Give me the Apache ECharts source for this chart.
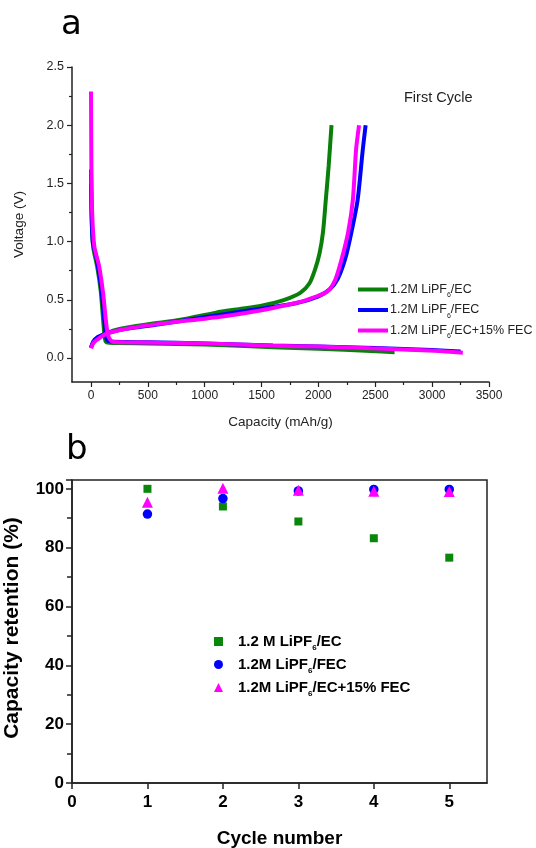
<!DOCTYPE html>
<html>
<head>
<meta charset="utf-8">
<script src="https://cdn.jsdelivr.net/npm/echarts@6/dist/echarts.min.js"></script>
<style>
    html, body { margin: 0; padding: 0; background: #fff; }
    #main { width: 536px; height: 848px; }
</style>
</head>
<body>
<div id="main"></div>
<script>
// legend labels ({s|6} = subscript)
var curveLabels = ['1.2M LiPF{s|6}/EC', '1.2M LiPF{s|6}/FEC', '1.2M LiPF{s|6}/EC+15% FEC'];
var retentionLabels = ['1.2 M LiPF{s|6}/EC', '1.2M LiPF{s|6}/FEC', '1.2M LiPF{s|6}/EC+15% FEC'];
var colors = ['#0a7f0a', '#0000ff', '#ff00ff'];

// panel a: first cycle, [capacity mAh/g, voltage V]
var ecDischarge = [[0, 1.50], [5, 1.2], [20, 0.95], [55, 0.78], [85, 0.58], [105, 0.35], [118, 0.2], [130, 0.14],
    [160, 0.13], [500, 0.125], [1000, 0.115], [1600, 0.093], [2000, 0.08], [2460, 0.06], [2670, 0.05]];
var ecCharge = [[0, 0.09], [20, 0.13], [60, 0.17], [130, 0.21], [250, 0.25], [500, 0.29], [800, 0.33], [1100, 0.39],
    [1300, 0.42], [1500, 0.45], [1700, 0.50], [1840, 0.56], [1920, 0.64], [1970, 0.76], [2010, 0.9], [2040, 1.08],
    [2065, 1.36], [2090, 1.65], [2115, 2.0]];
var fecDischarge = [[0, 1.62], [5, 1.3], [15, 1.0], [50, 0.85], [90, 0.6], [115, 0.35], [130, 0.2], [145, 0.15],
    [200, 0.14], [500, 0.135], [1000, 0.125], [1600, 0.108], [2000, 0.098], [2500, 0.085], [3000, 0.068], [3250, 0.055]];
var fecCharge = [[0, 0.09], [20, 0.14], [60, 0.18], [130, 0.21], [300, 0.25], [600, 0.29], [1000, 0.35], [1400, 0.41],
    [1800, 0.47], [2000, 0.53], [2100, 0.59], [2170, 0.68], [2235, 0.85], [2290, 1.08], [2345, 1.36], [2390, 1.79], [2415, 2.0]];
var mixDischarge = [[0, 2.29], [3, 1.7], [9, 1.28], [29, 0.96], [71, 0.79], [106, 0.56], [129, 0.34], [151, 0.19],
    [190, 0.14], [300, 0.135], [600, 0.13], [1000, 0.125], [1600, 0.106], [2000, 0.098], [2460, 0.083], [3030, 0.063], [3270, 0.046]];
var mixCharge = [[0, 0.083], [15, 0.12], [43, 0.15], [129, 0.206], [300, 0.249], [586, 0.291], [1157, 0.357], [1500, 0.41],
    [1790, 0.47], [1900, 0.50], [2076, 0.57], [2147, 0.67], [2204, 0.85], [2261, 1.08], [2303, 1.36], [2331, 1.79], [2357, 2.0]];

// panel b: capacity retention (%) per cycle
var cycles = [1, 2, 3, 4, 5];
var ecRetention = [100, 94, 88.9, 83.2, 76.6];
var fecRetention = [91.4, 96.7, 99.3, 99.8, 99.8];
var mixRetention = [95.4, 100.2, 99.5, 99.2, 99.1];

var chart = echarts.init(document.getElementById('main'));

var font = 'Liberation Sans, Arial, sans-serif';
var ink = '#222';

function pairs(ys) {
    var out = [];
    for (var i = 0; i < cycles.length; i++) {
        out.push([cycles[i], ys[i]]);
    }
    return out;
}

function curve(name, color, data) {
    return {
        name: name,
        type: 'line',
        xAxisIndex: 1,
        yAxisIndex: 1,
        data: data,
        smooth: 0.25,
        showSymbol: false,
        symbol: 'none',
        clip: false,
        lineStyle: {color: color, width: 4},
        itemStyle: {color: color}
    };
}

function dots(name, color, symbol, size, ys) {
    return {
        name: name,
        type: 'scatter',
        xAxisIndex: 2,
        yAxisIndex: 2,
        data: pairs(ys),
        symbol: symbol,
        symbolSize: size,
        itemStyle: {color: color, opacity: 1}
    };
}

var labelMap = {
    a0: curveLabels[0], a1: curveLabels[1], a2: curveLabels[2],
    b0: retentionLabels[0], b1: retentionLabels[1], b2: retentionLabels[2]
};

var option = {
    animation: false,
    textStyle: {fontFamily: font},
    grid: [
        // axis lines of panel a (full extent)
        {left: 72, top: 67, right: 47, bottom: 466, outerBoundsMode: 'none'},
        // data area of panel a (0..3500, 0..2.5)
        {left: 91, top: 67, right: 47, bottom: 490, outerBoundsMode: 'none'},
        // panel b
        {left: 72, top: 480, right: 49, bottom: 65, show: true, borderColor: ink, borderWidth: 1.5, outerBoundsMode: 'none'}
    ],
    xAxis: [
        {
            gridIndex: 0, type: 'value', min: -165, max: 3500,
            axisLine: {onZero: false, lineStyle: {color: ink, width: 1.5}},
            axisTick: {show: false}, axisLabel: {show: false}, splitLine: {show: false},
            name: 'Capacity (mAh/g)', nameLocation: 'middle', nameGap: 33,
            nameTextStyle: {color: ink, fontSize: 13.5, fontFamily: font}
        },
        {
            gridIndex: 1, type: 'value', min: 0, max: 3500, interval: 500, offset: 24,
            axisLine: {show: false, onZero: false},
            axisTick: {show: true, length: 5, lineStyle: {color: ink, width: 1.2}},
            minorTick: {show: true, splitNumber: 2, length: 3, lineStyle: {color: ink, width: 1.2}},
            axisLabel: {color: ink, fontSize: 12, margin: 8, formatter: function (v) { return String(v); }},
            splitLine: {show: false}
        },
        {
            gridIndex: 2, type: 'value', min: 0, max: 5.5, interval: 1,
            axisLine: {lineStyle: {color: ink, width: 1.5}},
            axisTick: {length: 6, lineStyle: {color: ink, width: 1.5}},
            axisLabel: {color: '#000', fontSize: 17, fontWeight: 'bold', margin: 11, showMaxLabel: false},
            splitLine: {show: false},
            name: 'Cycle number', nameLocation: 'middle', nameGap: 46,
            nameTextStyle: {color: '#000', fontSize: 19, fontWeight: 'bold', fontFamily: font}
        }
    ],
    yAxis: [
        {
            gridIndex: 0, type: 'value', min: -0.206, max: 2.5,
            axisLine: {onZero: false, lineStyle: {color: ink, width: 1.5}},
            axisTick: {show: false}, axisLabel: {show: false}, splitLine: {show: false},
            name: 'Voltage (V)', nameLocation: 'middle', nameGap: 46,
            nameTextStyle: {color: ink, fontSize: 13.5, fontFamily: font}
        },
        {
            gridIndex: 1, type: 'value', min: 0, max: 2.5, interval: 0.5, offset: 19,
            axisLine: {show: false, onZero: false},
            axisTick: {show: true, length: 5, lineStyle: {color: ink, width: 1.2}},
            minorTick: {show: true, splitNumber: 2, length: 3, lineStyle: {color: ink, width: 1.2}},
            axisLabel: {color: ink, fontSize: 12.5, margin: 8, formatter: function (v) { return v.toFixed(1); }},
            splitLine: {show: false}
        },
        {
            gridIndex: 2, type: 'value', min: 0, max: 103, interval: 20,
            axisLine: {lineStyle: {color: ink, width: 1.5}},
            axisTick: {length: 6, lineStyle: {color: ink, width: 1.5}},
            minorTick: {show: true, splitNumber: 2, length: 5, lineStyle: {color: ink, width: 1.5}},
            axisLabel: {color: '#000', fontSize: 17, fontWeight: 'bold', margin: 8, showMaxLabel: false,
                formatter: function (v) { return v % 20 === 0 ? String(v) : ''; }},
            splitLine: {show: false}
        }
    ],
    legend: [
        {
            data: ['a0', 'a1', 'a2'],
            orient: 'vertical', left: 358, top: 283, itemGap: 4.5, padding: 0,
            icon: 'rect', itemWidth: 30, itemHeight: 4,
            formatter: function (n) { return labelMap[n]; },
            textStyle: {
                color: ink, fontSize: 12.5, fontFamily: font, padding: [0, 0, 0, -3],
                rich: {s: {fontSize: 7, fontFamily: font, color: ink, verticalAlign: 'top', lineHeight: 1, padding: [9, 0, 0, 0]}}
            }
        },
        {
            data: ['b0', 'b1', 'b2'],
            orient: 'vertical', left: 214, top: 634, itemGap: 5, padding: 0,
            itemWidth: 9, itemHeight: 9,
            formatter: function (n) { return labelMap[n]; },
            textStyle: {
                color: '#000', fontSize: 15, fontWeight: 'bold', fontFamily: font, padding: [0, 0, 0, 10],
                rich: {s: {fontSize: 8, fontWeight: 'bold', fontFamily: font, color: '#000', verticalAlign: 'top', lineHeight: 1, padding: [10, 0, 0, 0]}}
            }
        }
    ],
    graphic: [
        {type: 'text', left: 61, top: 8, style: {text: 'a', fontSize: 34, fontFamily: 'DejaVu Sans, sans-serif', fill: '#000'}},
        {type: 'text', left: 66, top: 433, style: {text: 'b', fontSize: 34, fontFamily: 'DejaVu Sans, sans-serif', fill: '#000'}},
        {type: 'text', left: 404, top: 90, style: {text: 'First Cycle', fontSize: 14.5, fontFamily: font, fill: ink}},
        {
            type: 'text', x: 12, y: 628, rotation: Math.PI / 2,
            style: {text: 'Capacity retention (%)', fontSize: 21, fontWeight: 'bold', fontFamily: font, fill: '#000',
                align: 'center', verticalAlign: 'middle'}
        }
    ],
    series: [
        curve('a0', colors[0], ecDischarge),
        curve('a0', colors[0], ecCharge),
        curve('a1', colors[1], fecDischarge),
        curve('a1', colors[1], fecCharge),
        curve('a2', colors[2], mixDischarge),
        curve('a2', colors[2], mixCharge),
        dots('b0', '#0a860a', 'rect', 8, ecRetention),
        dots('b1', colors[1], 'circle', 9.5, fecRetention),
        dots('b2', colors[2], 'triangle', 11, mixRetention)
    ]
};

chart.setOption(option);
</script>
</body>
</html>
